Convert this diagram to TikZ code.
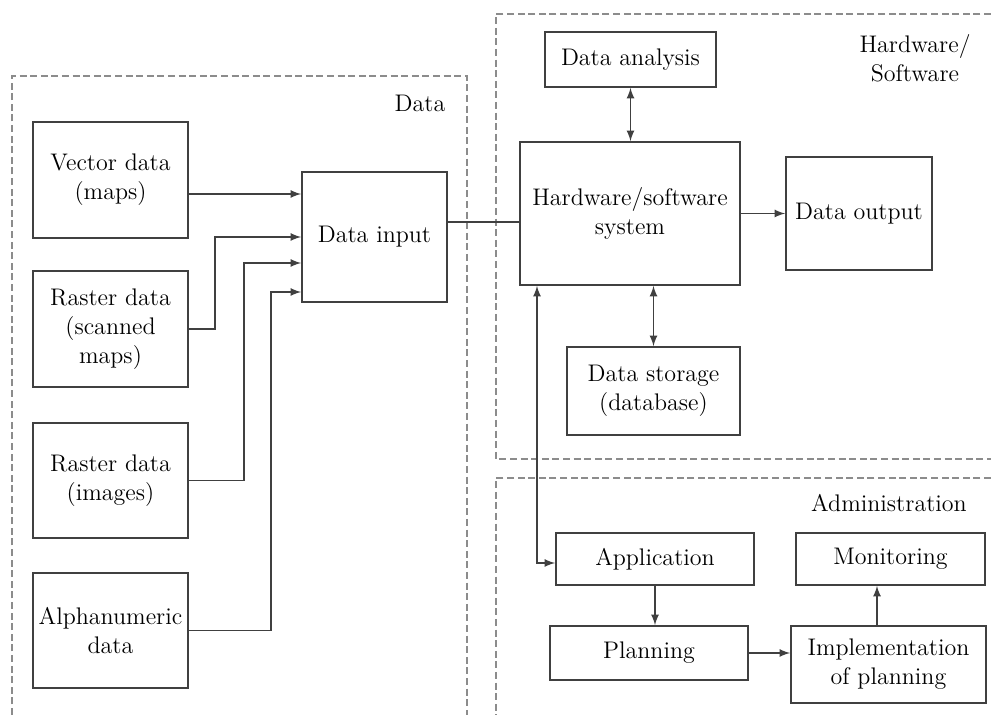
\documentclass[tikz,border=0pt,12pt]{standalone}
\usepackage{tikz}
\usetikzlibrary{positioning}
\usetikzlibrary{calc}
\usetikzlibrary{arrows}

\tikzset{
  box/.style={draw=black!75, line width=0.9pt, fill=white, align=center, inner sep=2pt},
  zone/.style={draw=black!45, line width=1pt, dash pattern=on 3.5pt off 1.8pt},
  link/.style={draw=black!75, line width=0.8pt},
  arr/.style={link, -latex},
  darr/.style={link, latex-latex}
}

\begin{document}
\begin{tikzpicture}[x=0.5pt,y=-0.5pt]
\useasboundingbox (0,0) rectangle (991,715);

% dashed zones
\draw[zone] (12,715) -- (12,76) -- (467,76) -- (467,715);
\draw[zone] (991,14) -- (496,14) -- (496,459) -- (991,459);
\draw[zone] (991,478) -- (496,478) -- (496,715);

\node at (420,103) {Data};
\node[align=center] at (915,58) {Hardware/\\Software};
\node at (889,503) {Administration};

% data sources
\node (vec)   at (110.5,180)   [box, minimum width=77.5pt, minimum height=58pt] {Vector data\\(maps)};
\node (ras)   at (110.5,329)   [box, minimum width=77.5pt, minimum height=58pt] {Raster data\\(scanned\\maps)};
\node (img)   at (110.5,480.5) [box, minimum width=77.5pt, minimum height=57.5pt] {Raster data\\(images)};
\node (alpha) at (110.5,630.5) [box, minimum width=77.5pt, minimum height=57.5pt] {Alphanumeric\\data};
\node (input) at (374.5,237)   [box, minimum width=72.5pt, minimum height=65pt] {Data input};

% hardware/software
\node (hw)       at (630,213.5)   [box, minimum width=110pt, minimum height=71.5pt] {Hardware/software\\system};
\node (analysis) at (630.5,59.5)  [box, minimum width=85.5pt, minimum height=27.5pt] {Data analysis};
\node (output)   at (859,213.5)   [box, minimum width=73pt, minimum height=56.5pt] {Data output};
\node (storage)  at (653.5,391)   [box, minimum width=86.5pt, minimum height=44pt] {Data storage\\(database)};

% administration
\node (app)     at (655,559)    [box, minimum width=99pt, minimum height=26pt] {Application};
\node (monitor) at (890.5,559)  [box, minimum width=94.5pt, minimum height=26pt] {Monitoring};
\node (plan)    at (649,653)    [box, minimum width=99pt, minimum height=27pt] {Planning};
\node (impl)    at (888.5,664.5) [box, minimum width=97.5pt, minimum height=38.5pt] {Implementation\\of planning};

% connectors
\draw[arr] (vec.east |- 0,194) -- (input.west |- 0,194);
\draw[arr] (ras.east) -- (215,329) |- (input.west |- 0,237);
\draw[arr] (img.east) -- (244,480.5) |- (input.west |- 0,263);
\draw[arr] (alpha.east) -- (271,630.5) |- (input.west |- 0,292);
\draw[link] (input.east |- 0,222) -- (hw.west |- 0,222);

\draw[darr] (analysis.south) -- (analysis.south |- hw.north);
\draw[arr] (hw.east) -- (output.west);
\draw[darr] (storage.north) -- (storage.north |- hw.south);
\draw[darr] (hw.south -| 537,0) |- (app.west |- 0,563);

\draw[arr] (app.south) -- (app.south |- plan.north);
\draw[arr] (plan.east) -- (plan.east -| impl.west);
\draw[arr] (impl.north -| 877,0) -- (monitor.south -| 877,0);
\end{tikzpicture}
\end{document}
